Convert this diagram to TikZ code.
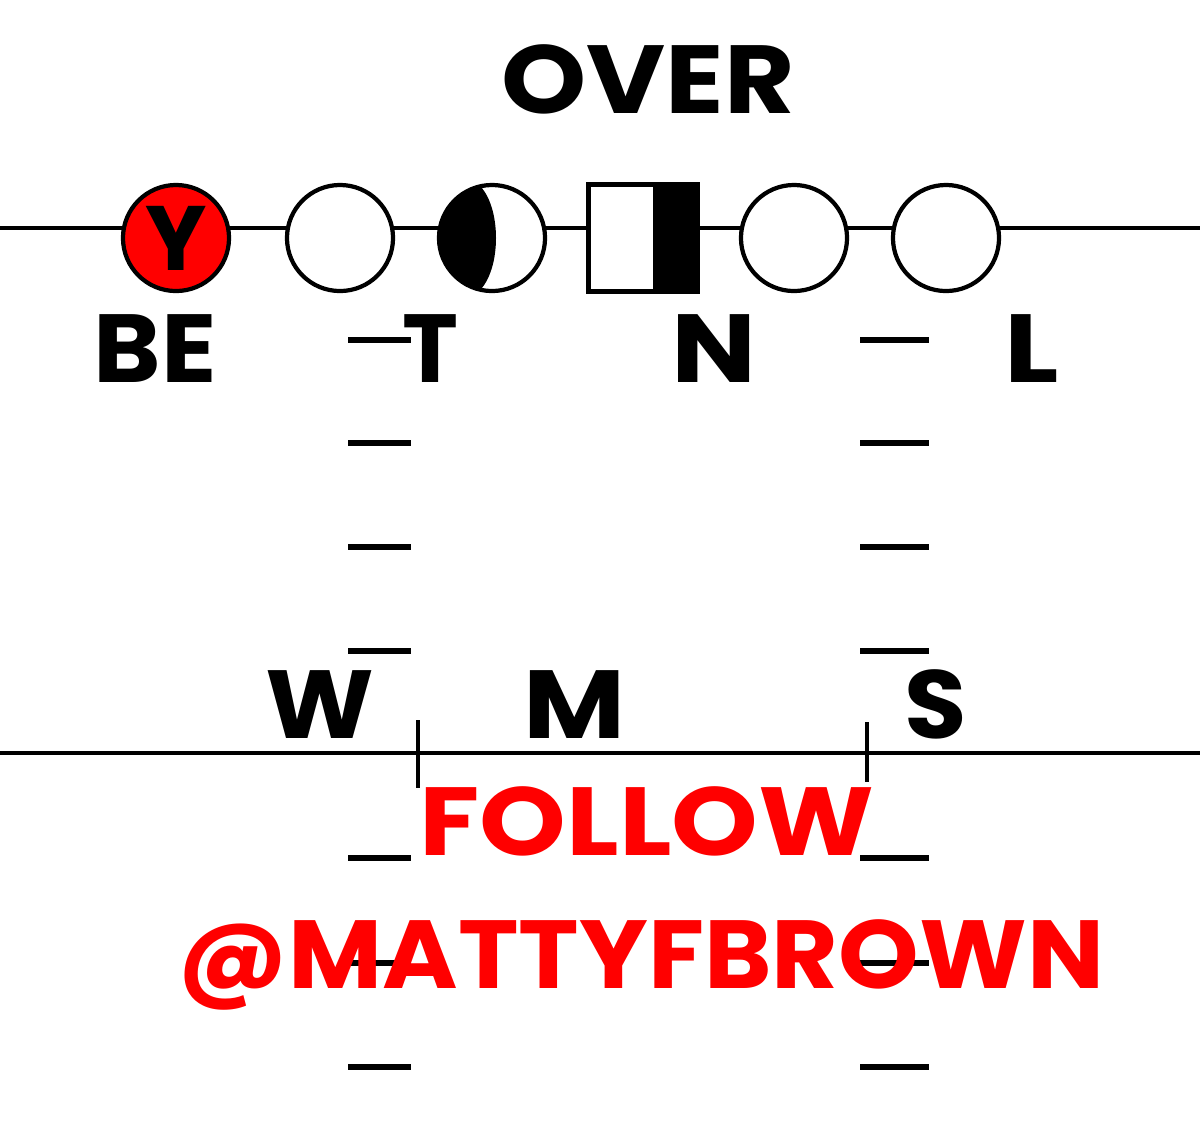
\documentclass[tikz,border=0pt]{standalone}
\usepackage{fontspec}
\usepackage{graphicx}
\setmainfont{Poppins}
\usetikzlibrary{calc}
\definecolor{pred}{RGB}{255,0,0}
\newcommand\stretchtxt[2]{\scalebox{#1}[1]{#2}}
\tikzset{
  player/.style={circle, draw=black, line width=1.2pt, fill=white, minimum size=1.06cm, inner sep=0pt},
  centerbox/.style={rectangle, draw=black, line width=1.2pt, fill=white, minimum width=1.09cm, minimum height=1.07cm, inner sep=0pt},
  lbl/.style={anchor=base, inner sep=0pt, font=\fontsize{27.5pt}{30pt}\selectfont\bfseries},
  redlbl/.style={lbl, text=pred},
  fieldline/.style={line width=1.2pt, black},
  dashmark/.style={line width=1.8pt, black},
}
\begin{document}
\begin{tikzpicture}[x={(0.01cm,0)}, y={(0,-0.01cm)}]
\fill[white] (0,0) rectangle (1200,1132);
\useasboundingbox (0,0) rectangle (1200,1132);

% formation line
\coordinate (olw) at (0,228);
\coordinate (ole) at (1200,228);
\draw[fieldline] (olw) -- (ole);

% line of scrimmage and ticks
\coordinate (lsw) at (0,753);
\coordinate (lse) at (1200,753);
\draw[fieldline] (lsw) -- (lse);
\coordinate (t1a) at (418,720); \coordinate (t1b) at (418,788);
\coordinate (t2a) at (867,722); \coordinate (t2b) at (867,782);
\draw[line width=1pt] (t1a) -- (t1b);
\draw[line width=1pt] (t2a) -- (t2b);

% yard dashes
\foreach \yy in {340,443,547,651,858,963,1067}{
  \draw[dashmark] (348,\yy) -- (411,\yy);
  \draw[dashmark] (860,\yy) -- (929,\yy);
}

% players
\node[player, fill=pred] (y) at (176,238) {\fontsize{26pt}{28pt}\selectfont\bfseries Y};
\node[player] (lt) at (340,238) {};
\node[player, path picture={
  \fill[black] ($(path picture bounding box.center)+(-70,-70)$) --
    ($(path picture bounding box.center)+(-14,-70)$) --
    ($(path picture bounding box.center)+(-14,-54)$)
    .. controls ($(path picture bounding box.center)+(10,-33)$) and ($(path picture bounding box.center)+(10,33)$) ..
    ($(path picture bounding box.center)+(-14,54)$) --
    ($(path picture bounding box.center)+(-14,70)$) --
    ($(path picture bounding box.center)+(-70,70)$) -- cycle;
}] (lg) at (492,238) {};
\node[centerbox, path picture={
  \fill[black] ($(path picture bounding box.center)+(10,-60)$) rectangle ($(path picture bounding box.center)+(60,60)$);
}] (c) at (643,238) {};
\node[player] (rg) at (794,238) {};
\node[player] (rt) at (946,238) {};

% labels
\node[lbl] (over) at (648,113) {\stretchtxt{1.12}{OVER}};
\node[lbl] (be) at (155,382) {\stretchtxt{1.06}{BE}};
\node[lbl] (t) at (430,382) {\stretchtxt{0.98}{T}};
\node[lbl] (n) at (714,382) {\stretchtxt{1.17}{N}};
\node[lbl] (l) at (1032,382) {\stretchtxt{1.18}{L}};
\node[lbl] (w) at (320,738) {\stretchtxt{1.07}{W}};
\node[lbl] (m) at (575,738) {\stretchtxt{1.15}{M}};
\node[lbl] (s) at (936,738) {\stretchtxt{1.05}{S}};
\node[redlbl] (follow) at (647,855) {\stretchtxt{1.14}{FOLLOW}};
\node[redlbl] (handle) at (641,988) {\stretchtxt{1.06}{@MATTYFBROWN}};
\end{tikzpicture}
\end{document}
